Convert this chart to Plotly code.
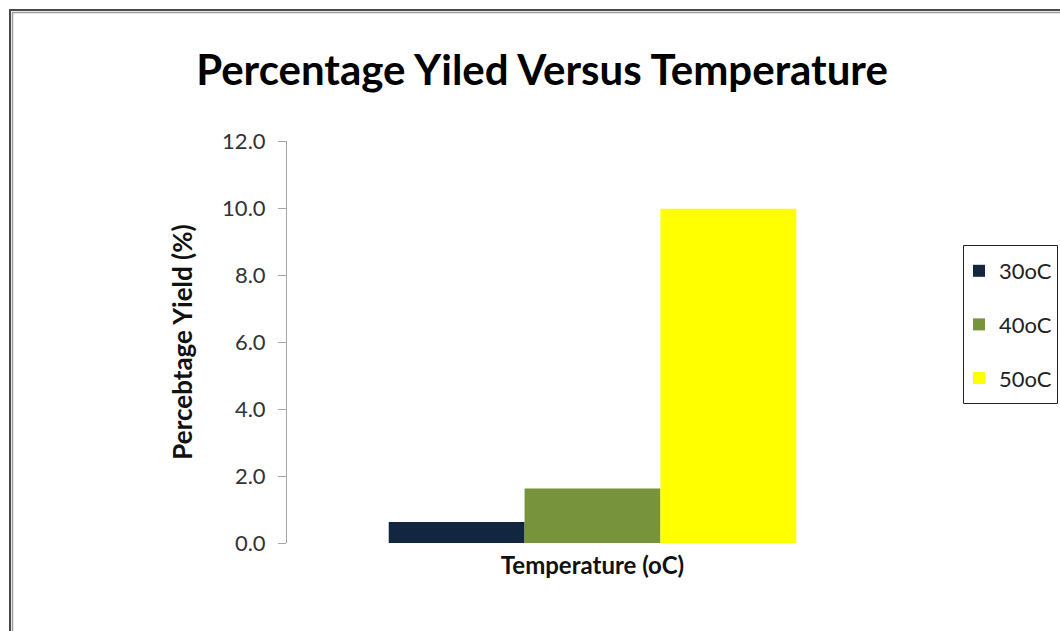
import plotly.graph_objects as go

# Data
categories = ["Temperature (oC)"]
series_names = ["30oC", "40oC", "50oC"]
series_values = [[0.63], [1.63], [9.98]]
series_colors = ["#13263f", "#77933c", "#ffff00"]
y_ticks = [0, 2, 4, 6, 8, 10, 12]
y_tick_labels = ["0.0", "2.0", "4.0", "6.0", "8.0", "10.0", "12.0"]

FONT = "Lato"
FW, FH = 1060, 631

fig = go.Figure()
for i, (name, vals, col) in enumerate(zip(series_names, series_values, series_colors)):
    fig.add_trace(go.Bar(
        x=categories, y=vals, name=name,
        marker=dict(color=col, line=dict(width=0)),
        legendgroup=f"g{i}",
    ))

# plot area geometry (px)
L, R, T, B = 287, 162, 141, 88
W = FW - L - R
H = FH - T - B

def px_x(p):
    return (p - L) / W

def px_y(p):
    return (FH - B - p) / H

shapes = [
    # outer frame (double line)
    dict(type="rect", xref="paper", yref="paper",
         x0=px_x(10), x1=px_x(1080), y0=px_y(650), y1=px_y(10),
         line=dict(color="#4a4a4a", width=2)),
    dict(type="rect", xref="paper", yref="paper",
         x0=px_x(12.5), x1=px_x(1080), y0=px_y(650), y1=px_y(12.5),
         line=dict(color="#9a9a9a", width=1.5)),
    # legend box
    dict(type="rect", xref="paper", yref="paper",
         x0=px_x(963.5), x1=px_x(1057.5), y0=px_y(403.5), y1=px_y(245.5),
         line=dict(color="#222222", width=1)),
]

fig.update_layout(
    width=FW, height=FH,
    margin=dict(l=L, r=R, t=T, b=B, autoexpand=False),
    paper_bgcolor="white", plot_bgcolor="white",
    bargap=0.333, bargroupgap=0,
    showlegend=True,
    title=dict(
        text="<b>Percentage Yiled Versus Temperature</b>",
        x=542 / FW, xanchor="center",
        y=1 - 70 / FH, yanchor="middle",
        font=dict(family=FONT, size=42, color="#000000"),
    ),
    legend=dict(
        xref="container", yref="container",
        x=1057 / FW, xanchor="right",
        y=1 - 250 / FH, yanchor="top",
        bgcolor="rgba(0,0,0,0)", borderwidth=0,
        font=dict(family=FONT, size=22, color="#222222"),
        tracegroupgap=22, traceorder="grouped",
    ),
    xaxis=dict(
        automargin=False,
        showticklabels=False, showline=False, ticks="",
        showgrid=False, zeroline=False,
        title=dict(text="<b>Temperature (oC)</b>", standoff=14,
                   font=dict(family=FONT, size=24, color="#111111")),
    ),
    yaxis=dict(
        automargin=False,
        range=[0, 12], tickmode="array", tickvals=y_ticks, ticktext=y_tick_labels,
        showline=True, linecolor="#a6a6a6", linewidth=1,
        ticks="outside", ticklen=8, tickcolor="#a6a6a6", tickwidth=1,
        ticklabelstandoff=8,
        showgrid=False, zeroline=False,
        tickfont=dict(family=FONT, size=22, color="#333333"),
        title=dict(text="<b>Percebtage Yield (%)</b>", standoff=22,
                   font=dict(family=FONT, size=26, color="#111111")),
    ),
    shapes=shapes,
)

fig.write_html("out.html")
